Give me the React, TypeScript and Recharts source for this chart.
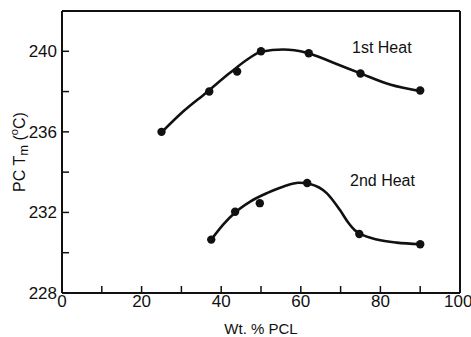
import React from "react";
import { ComposedChart, Line, XAxis, YAxis, Customized } from "recharts";

// measured points
const pctHeat1 = [25, 37, 44, 50, 62, 75, 90];
const tmHeat1 = [236, 238, 239, 240, 239.9, 238.9, 238.05];
const pctHeat2 = [37.5, 43.5, 49.7, 61.6, 74.7, 90];
const tmHeat2 = [230.65, 232.03, 232.46, 233.46, 230.93, 230.42];

// hand-drawn smooth curves
const fitPct1 = [25, 30.5, 36.4, 42.2, 47.2, 50, 55.6, 61.5, 68.2, 74.7, 82.4, 90.4];
const fitTm1 = [235.97, 237.02, 237.97, 238.93, 239.68, 239.98, 240.09, 239.93, 239.43, 238.93, 238.35, 238.01];
const fitPct2 = [37.5, 40.6, 43.5, 47.3, 51.5, 55.7, 59.5, 62.5, 66.5, 69.8, 71.9, 73.5, 75, 79.1, 84.1, 90];
const fitTm2 = [230.65, 231.42, 232.0, 232.54, 232.96, 233.29, 233.47, 233.4, 232.96, 232.13, 231.5, 231.13, 230.93, 230.66, 230.5, 230.42];

const xTicks = [0, 10, 20, 30, 40, 50, 60, 70, 80, 90, 100];
const yTicks = [228, 230, 232, 234, 236, 238, 240, 242];
const yLabelled = [228, 232, 236, 240];

const pts1 = pctHeat1.map((x, i) => ({ x, y: tmHeat1[i] }));
const pts2 = pctHeat2.map((x, i) => ({ x, y: tmHeat2[i] }));
const fit1 = fitPct1.map((x, i) => ({ x, y: fitTm1[i] }));
const fit2 = fitPct2.map((x, i) => ({ x, y: fitTm2[i] }));

const FONT = "'Liberation Sans', Arial, sans-serif";
const INK = "#111";

const Dot = (props: any) => {
  const { cx, cy } = props;
  if (cx == null || cy == null) return <g />;
  return <circle cx={cx} cy={cy} r={4.2} fill={INK} />;
};

export default function App() {
  const tickStyle = { fill: INK, fontSize: 17, fontFamily: FONT };
  const lineAxis = { stroke: INK, strokeWidth: 2 };
  const tickLn = { stroke: INK, strokeWidth: 1.5 };
  return (
    <div style={{ position: "absolute", left: 0, top: 0, background: "#fff" }}>
      <ComposedChart
        width={471}
        height={337}
        margin={{ top: 10, right: 10, bottom: 14, left: 12 }}
      >
        <XAxis
          xAxisId="b"
          type="number"
          dataKey="x"
          domain={[0, 100]}
          ticks={xTicks}
          tickFormatter={(v: number) => (v % 20 === 0 ? String(v) : "")}
          tick={tickStyle}
          tickSize={-7}
          tickMargin={9}
          height={30}
          axisLine={lineAxis}
          tickLine={tickLn}
        />
        <XAxis
          xAxisId="t"
          orientation="top"
          type="number"
          dataKey="x"
          domain={[0, 100]}
          ticks={xTicks}
          tickFormatter={() => ""}
          tickSize={-7}
          height={1}
          axisLine={lineAxis}
          tickLine={tickLn}
        />
        <YAxis
          yAxisId="l"
          type="number"
          dataKey="y"
          domain={[228, 242]}
          ticks={yTicks}
          tickFormatter={(v: number) => (yLabelled.includes(v) ? String(v) : "")}
          tick={tickStyle}
          tickSize={-7}
          tickMargin={12}
          width={50}
          axisLine={lineAxis}
          tickLine={tickLn}
          label={(p: any) => {
            const vb = p.viewBox || {};
            const cx = 19;
            const cy = (vb.y ?? 11) + (vb.height ?? 282) / 2;
            return (
              <text
                x={cx}
                y={cy}
                transform={`rotate(-90, ${cx}, ${cy})`}
                textAnchor="middle"
                dominantBaseline="central"
                fontFamily={FONT}
                fontSize={16}
                fill={INK}
              >
                PC T
                <tspan fontSize={13} dy={4}>m</tspan>
                <tspan dy={-4}> (</tspan>
                <tspan fontSize={11} dy={-5}>o</tspan>
                <tspan dy={5}>C)</tspan>
              </text>
            );
          }}
        />
        <YAxis
          yAxisId="r"
          orientation="right"
          type="number"
          dataKey="y"
          domain={[228, 242]}
          ticks={yTicks}
          tickFormatter={() => ""}
          tickSize={-7}
          width={1}
          axisLine={lineAxis}
          tickLine={tickLn}
        />
        <Line xAxisId="b" yAxisId="l" data={fit1} dataKey="y" type="monotone"
          stroke={INK} strokeWidth={2.6} dot={false} activeDot={false} isAnimationActive={false} />
        <Line xAxisId="b" yAxisId="l" data={fit2} dataKey="y" type="monotone"
          stroke={INK} strokeWidth={2.6} dot={false} activeDot={false} isAnimationActive={false} />
        <Line xAxisId="b" yAxisId="l" data={pts1} dataKey="y" stroke="none"
          dot={<Dot />} activeDot={false} isAnimationActive={false} />
        <Line xAxisId="b" yAxisId="l" data={pts2} dataKey="y" stroke="none"
          dot={<Dot />} activeDot={false} isAnimationActive={false} />
        <Customized
          component={() => (
            <g fontFamily={FONT} fill={INK}>
              <text x={352} y={53} fontSize={16}>1st Heat</text>
              <text x={350} y={186} fontSize={16}>2nd Heat</text>
              <text x={261} y={334} fontSize={15} textAnchor="middle">Wt. % PCL</text>
            </g>
          )}
        />
      </ComposedChart>
    </div>
  );
}
